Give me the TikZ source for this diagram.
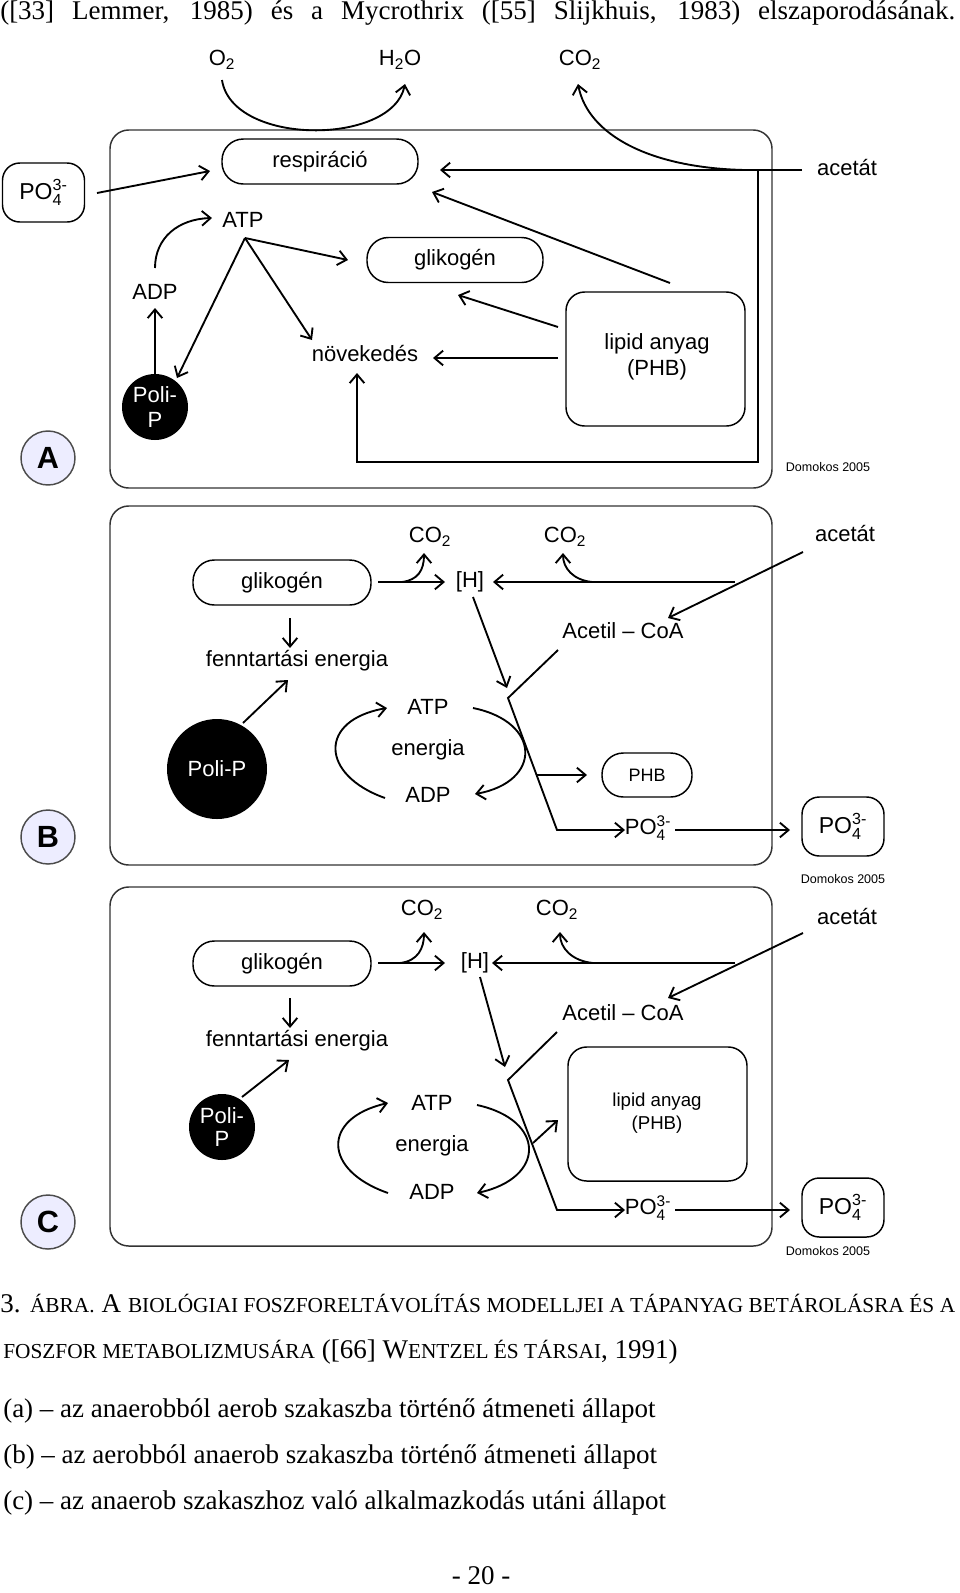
\documentclass[tikz,border=0pt]{standalone}
\usepackage{fontspec}
\usepackage{amsmath}
\setmainfont{Liberation Serif}
\setsansfont{Liberation Sans}
\usetikzlibrary{arrows.meta}
\newlength\upx \setlength\upx{0.75pt}
\newcommand\dg{\sffamily\fontsize{16.5}{19.5}\selectfont}
\newcommand\POf{PO\ensuremath{^{\text{3-}}_{\text{4}}}}
\newcommand\COt{CO\ensuremath{_{\text{2}}}}
\newcommand\fsc[1]{{\fontsize{16}{18}\selectfont #1}}
\newcommand\capf{\rmfamily\fontsize{20.25}{24}\selectfont}
\tikzset{
  every node/.style={font=\dg, inner sep=0pt},
  arr/.style={line width=1.4pt, -{Straight Barb[length=6.5pt,width=11pt]}},
  ln/.style={line width=1.4pt},
  panel/.style={draw=black!80, line width=1.1pt, rounded corners=14pt},
  pill/.style={draw, line width=1.1pt, rounded corners=16pt, minimum height=45\upx},
  rbox/.style={draw, line width=1.1pt, rounded corners=14pt},
  pobox/.style={draw, line width=1.1pt, rounded corners=13pt, minimum width=82\upx, minimum height=59\upx, font=\sffamily\fontsize{17.25}{20}\selectfont},
  polip/.style={circle, fill=black, text=white, align=center},
  letter/.style={circle, draw=black!70, fill=blue!7, line width=1.1pt, minimum size=54\upx, font=\sffamily\bfseries\fontsize{23}{26}\selectfont},
  dom/.style={font=\sffamily\fontsize{9.4}{11}\selectfont},
  capt/.style={font=\capf, anchor=west},
}
\begin{document}
\begin{tikzpicture}[x=0.75pt,y=-0.75pt]
\useasboundingbox (0,0) rectangle (960,1593);

% ---------- top line ----------
\node[capt] (topline) at (0,13) {\makebox[955\upx][s]{([33] Lemmer, 1985) és a Mycrothrix ([55] Slijkhuis, 1983) elszaporodásának.}};

% ================= PANEL A =================
\draw[panel] (110,130) rectangle (772,488);
\node[pobox] (poA) at (43.5,192.5) {\POf};
\node[pill, minimum width=196\upx] (respA) at (320,161.5) {respiráció};
\node (o2A) at (222,60) {O\ensuremath{_{\text{2}}}};
\node (h2oA) at (400,60) {H\ensuremath{_{\text{2}}}O};
\node (co2A) at (580,60) {\COt};
\node (acA) at (847,168) {acetát};
\node (atpA) at (243,220) {ATP};
\node (adpA) at (155,292) {ADP};
\node[polip, minimum size=66\upx] (ppA) at (155,407) {Poli-\\[-1pt]P};
\node[pill, minimum width=176\upx] (glA) at (455,260) {glikogén};
\node (novA) at (365,353) {növekedés};
\node[rbox, minimum width=179\upx, minimum height=134\upx] (lipA) at (655.5,359) {};
\node[align=center] (lipAt) at (657,357) {lipid anyag\\(PHB)};
\node[letter] (lA) at (48,458) {A};
\node[dom] (domA) at (828,467) {Domokos 2005};

\coordinate (a1s) at (97,193);   \coordinate (a1e) at (210,171);
\coordinate (o2s) at (222,80);   \coordinate (h2oe) at (405,84);
\coordinate (acs) at (802,170);  \coordinate (resr) at (440,170);
\coordinate (co2s) at (745,170); \coordinate (co2e) at (578,84);
\coordinate (brA) at (758,170);  \coordinate (brA2) at (758,462);
\coordinate (brA3) at (357,462); \coordinate (novb) at (357,373);
\coordinate (l1s) at (670,283);  \coordinate (l1e) at (432,192);
\coordinate (adpt) at (155,268); \coordinate (atpl) at (212,218);
\coordinate (ppt) at (155,374);  \coordinate (adpb) at (155,308);
\coordinate (apex) at (245,238);
\coordinate (ppe) at (177,378);  \coordinate (gle) at (348,260);
\coordinate (nove) at (312,340);
\coordinate (l2s) at (558,327);  \coordinate (l2e) at (458,295);
\coordinate (l3s) at (558,358);  \coordinate (l3e) at (433,358);

\draw[arr] (a1s) -- (a1e);
\draw[arr] (o2s) .. controls (232,146) and (392,146) .. (h2oe);
\draw[arr] (acs) -- (resr);
\draw[arr] (co2s) .. controls (650,168) and (588,135) .. (co2e);
\draw[arr] (brA) -- (brA2) -- (brA3) -- (novb);
\draw[arr] (l1s) -- (l1e);
\draw[arr] (adpt) .. controls (155,238) and (178,219) .. (atpl);
\draw[arr] (ppt) -- (adpb);
\draw[arr] (apex) -- (ppe);
\draw[arr] (apex) -- (gle);
\draw[arr] (apex) -- (nove);
\draw[arr] (l2s) -- (l2e);
\draw[arr] (l3s) -- (l3e);

% ================= PANEL B =================
\draw[panel] (110,506) rectangle (772,865);
\node[pill, minimum width=178\upx] (glB) at (282,582.5) {glikogén};
\node (hB) at (470,582) {[H]};
\node (co2B1) at (430,537) {\COt};
\node (co2B2) at (565,537) {\COt};
\node (acB) at (845,533) {acetát};
\node (acoaB) at (623,631) {Acetil -- CoA};
\node (fenB) at (297,661) {fenntartási energia};
\node[polip, minimum size=100\upx] (ppB) at (217,769) {Poli-P};
\node (atpB) at (428,707) {ATP};
\node (enB) at (428,750) {energia};
\node (adpB) at (428,795) {ADP};
\node[pill, minimum width=90\upx, minimum height=44\upx, font=\sffamily\fontsize{13.5}{16}\selectfont] (phbB) at (647,775) {PHB};
\node (poiB) at (648,828) {\POf};
\node[pobox] (pooB) at (843,826.5) {\POf};
\node[letter] (lB) at (48,837) {B};
\node[dom] (domB) at (843,879) {Domokos 2005};

\coordinate (bg1) at (378,582);  \coordinate (bh1) at (445,582);
\coordinate (bc1s) at (402,582); \coordinate (bc1e) at (424,553);
\coordinate (bc2s) at (592,582); \coordinate (bc2e) at (563,553);
\coordinate (bls) at (735,582);  \coordinate (ble) at (493,582);
\coordinate (bas) at (803,552);  \coordinate (bae) at (668,618);
\coordinate (bhs) at (473,597);  \coordinate (bhe) at (507,688);
\coordinate (bk1) at (558,650);  \coordinate (bk2) at (508,698);
\coordinate (bk3) at (557,830);  \coordinate (bk4) at (625,830);
\coordinate (bps) at (537,775);  \coordinate (bpe) at (587,775);
\coordinate (bos) at (675,830);  \coordinate (boe) at (790,830);
\coordinate (bfs) at (290,618);  \coordinate (bfe) at (290,648);
\coordinate (bpps) at (243,723); \coordinate (bppe) at (288,680);
\coordinate (bra) at (473,708);  \coordinate (bre) at (475,794);
\coordinate (bla) at (385,798);  \coordinate (ble2) at (387,708);

\draw[arr] (bg1) -- (bh1);
\draw[arr] (bc1s) .. controls (418,580) and (424,570) .. (bc1e);
\draw[arr] (bc2s) .. controls (573,580) and (563,568) .. (bc2e);
\draw[arr] (bls) -- (ble);
\draw[arr] (bas) -- (bae);
\draw[arr] (bhs) -- (bhe);
\draw[arr] (bk1) -- (bk2) -- (bk3) -- (bk4);
\draw[arr] (bps) -- (bpe);
\draw[arr] (bos) -- (boe);
\draw[arr] (bfs) -- (bfe);
\draw[arr] (bpps) -- (bppe);
\draw[arr] (bra) .. controls (542,722) and (542,782) .. (bre);
\draw[arr] (bla) .. controls (320,775) and (318,720) .. (ble2);

% ================= PANEL C =================
\draw[panel] (110,887) rectangle (772,1246);
\node[pill, minimum width=178\upx] (glC) at (282,963.5) {glikogén};
\node (hC) at (475,963) {[H]};
\node (co2C1) at (422,910) {\COt};
\node (co2C2) at (557,910) {\COt};
\node (acC) at (847,916) {acetát};
\node (acoaC) at (623,1013) {Acetil -- CoA};
\node (fenC) at (297,1041) {fenntartási energia};
\node[polip, minimum size=66\upx] (ppC) at (222,1127) {Poli-\\[-2pt]P};
\node (atpC) at (432,1103) {ATP};
\node (enC) at (432,1146) {energia};
\node (adpC) at (432,1192) {ADP};
\node[rbox, minimum width=179\upx, minimum height=134\upx] (lipC) at (657.5,1114) {};
\node[align=center, font=\sffamily\fontsize{14}{17}\selectfont] (lipCt) at (657,1113) {lipid anyag\\(PHB)};
\node (poiC) at (648,1208) {\POf};
\node[pobox] (pooC) at (843,1207.5) {\POf};
\node[letter] (lC) at (48,1222) {C};
\node[dom] (domC) at (828,1251) {Domokos 2005};

\coordinate (cg1) at (378,963);  \coordinate (ch1) at (445,963);
\coordinate (cc1s) at (400,963); \coordinate (cc1e) at (424,932);
\coordinate (cc2s) at (593,963); \coordinate (cc2e) at (560,932);
\coordinate (cls) at (735,963);  \coordinate (cle) at (492,963);
\coordinate (cas) at (803,933);  \coordinate (cae) at (668,998);
\coordinate (chs) at (480,977);  \coordinate (che) at (505,1067);
\coordinate (ck1) at (557,1032); \coordinate (ck2) at (508,1080);
\coordinate (ck3) at (557,1210); \coordinate (ck4) at (625,1210);
\coordinate (cps) at (533,1143); \coordinate (cpe) at (558,1120);
\coordinate (cos) at (675,1210); \coordinate (coe) at (790,1210);
\coordinate (cfs) at (290,998);  \coordinate (cfe) at (290,1028);
\coordinate (cpps) at (242,1097);\coordinate (cppe) at (289,1060);
\coordinate (cra) at (477,1105); \coordinate (cre) at (477,1193);
\coordinate (cla) at (388,1193); \coordinate (cle2) at (388,1103);

\draw[arr] (cg1) -- (ch1);
\draw[arr] (cc1s) .. controls (418,961) and (424,948) .. (cc1e);
\draw[arr] (cc2s) .. controls (572,961) and (560,948) .. (cc2e);
\draw[arr] (cls) -- (cle);
\draw[arr] (cas) -- (cae);
\draw[arr] (chs) -- (che);
\draw[arr] (ck1) -- (ck2) -- (ck3) -- (ck4);
\draw[arr] (cps) -- (cpe);
\draw[arr] (cos) -- (coe);
\draw[arr] (cfs) -- (cfe);
\draw[arr] (cpps) -- (cppe);
\draw[arr] (cra) .. controls (546,1120) and (546,1178) .. (cre);
\draw[arr] (cla) .. controls (322,1170) and (322,1118) .. (cle2);

% ---------- caption ----------
\node[capt] (cap1) at (0,1304) {\makebox[955\upx][s]{3. \fsc{ÁBRA.} A \fsc{BIOLÓGIAI FOSZFORELTÁVOLÍTÁS MODELLJEI A TÁPANYAG BETÁROLÁSRA ÉS A}}};
\node[capt] (cap2) at (3,1352) {\fsc{FOSZFOR METABOLIZMUSÁRA} ([66] W\fsc{ENTZEL ÉS TÁRSAI}, 1991)};
\node[capt] (capa) at (3,1411) {(a) -- az anaerobból aerob szakaszba történő átmeneti állapot};
\node[capt] (capb) at (3,1457) {(b) -- az aerobból anaerob szakaszba történő átmeneti állapot};
\node[capt] (capc) at (3,1503) {(c) -- az anaerob szakaszhoz való alkalmazkodás utáni állapot};
\node[font=\capf] (page) at (481,1576) {- 20 -};
\end{tikzpicture}
\end{document}
